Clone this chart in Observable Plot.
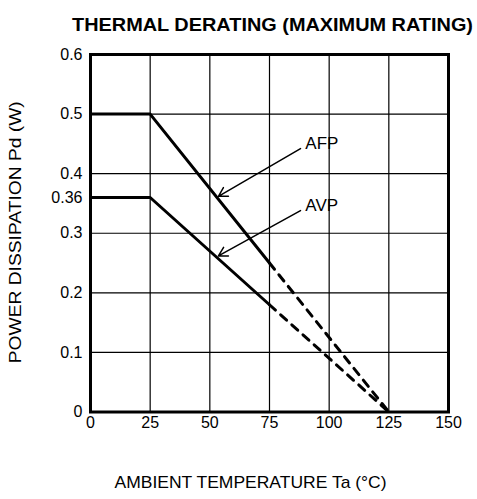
<!DOCTYPE html>
<html>
<head>
<meta charset="utf-8">
<script src="https://cdn.jsdelivr.net/npm/d3@7"></script>
<script src="https://cdn.jsdelivr.net/npm/@observablehq/plot@0.6"></script>
<style>
  html, body { margin: 0; padding: 0; background: white; }
</style>
</head>
<body>
<div id="chart"></div>
<script>
// Data
const afpSolidT = [0, 25, 75];
const afpSolidP = [0.5, 0.5, 0.25];
const afpDashT = [75, 125];
const afpDashP = [0.25, 0];
const avpSolidT = [0, 25, 75];
const avpSolidP = [0.36, 0.36, 0.18];
const avpDashT = [75, 125];
const avpDashP = [0.18, 0];

const xTicks = [0, 25, 50, 75, 100, 125, 150];
const yTicks = [0, 0.1, 0.2, 0.3, 0.36, 0.4, 0.5, 0.6];
const xGrid = [25, 50, 75, 100, 125];
const yGrid = [0.1, 0.2, 0.3, 0.4, 0.5];

const seriesLabels = ["AFP", "AVP"];
const labelT = [90, 90];
const labelP = [0.451, 0.347];
const arrowFromT = [88, 88];
const arrowFromP = [0.442, 0.338];
const arrowToT = [53.6, 53.6];
const arrowToP = [0.362, 0.262];

const titleText = "THERMAL DERATING (MAXIMUM RATING)";
const xLabel = "AMBIENT TEMPERATURE Ta (°C)";
const yLabel = "POWER DISSIPATION Pd (W)";

const toRows = (T, P) => T.map((t, i) => ({t, p: P[i]}));
const annot = seriesLabels.map((s, i) => ({
  s, lt: labelT[i], lp: labelP[i],
  x1: arrowFromT[i], y1: arrowFromP[i], x2: arrowToT[i], y2: arrowToP[i]
}));

const chart = Plot.plot({
  width: 477,
  height: 499,
  marginLeft: 90,
  marginRight: 29,
  marginTop: 54,
  marginBottom: 87.5,
  x: {domain: [0, 150], label: null},
  y: {domain: [0, 0.6], label: null},
  style: {fontFamily: "'Liberation Sans', Arial, sans-serif", fontSize: "15px", background: "white", color: "black"},
  marks: [
    Plot.ruleX(xGrid, {stroke: "black", strokeWidth: 1.2}),
    Plot.ruleY(yGrid, {stroke: "black", strokeWidth: 1.2}),
    Plot.line(toRows(afpSolidT, afpSolidP), {x: "t", y: "p", stroke: "black", strokeWidth: 3}),
    Plot.line(toRows(avpSolidT, avpSolidP), {x: "t", y: "p", stroke: "black", strokeWidth: 3}),
    Plot.line(toRows(afpDashT, afpDashP), {x: "t", y: "p", stroke: "black", strokeWidth: 3, strokeDasharray: "8,7"}),
    Plot.line(toRows(avpDashT, avpDashP), {x: "t", y: "p", stroke: "black", strokeWidth: 3, strokeDasharray: "8,7"}),
    Plot.frame({stroke: "black", strokeWidth: 3}),
    Plot.axisX({ticks: xTicks, tickSize: 0, tickPadding: 5, fontSize: 16, label: null}),
    Plot.axisY({ticks: yTicks, tickSize: 0, tickPadding: 8, fontSize: 16, label: null, tickFormat: d => String(d)}),
    Plot.arrow(annot, {x1: "x1", y1: "y1", x2: "x2", y2: "y2", stroke: "black", strokeWidth: 1.5, headLength: 10, insetEnd: 0}),
    Plot.text(annot, {x: "lt", y: "lp", text: "s", textAnchor: "start", fontSize: 17}),
    Plot.text([xLabel], {frameAnchor: "bottom", textAnchor: "middle", dx: -19, dy: 76, fontSize: 17, className: "xlab-text"}),
    Plot.text([yLabel], {frameAnchor: "left", textAnchor: "middle", rotate: -90, dx: -75, dy: -1, fontSize: 17, className: "ylab-text"}),
    Plot.text([titleText], {frameAnchor: "top", textAnchor: "middle", dx: 3, dy: -37, fontSize: 19, fontWeight: "bold", className: "title-text"})
  ]
});

document.getElementById("chart").appendChild(chart);
const fit = (cls, len) => d3.select(chart).selectAll(`g.${cls} text`)
  .attr("textLength", len)
  .attr("lengthAdjust", "spacingAndGlyphs");
fit("title-text", 401);
fit("xlab-text", 272);
fit("ylab-text", 262);
</script>
</body>
</html>
